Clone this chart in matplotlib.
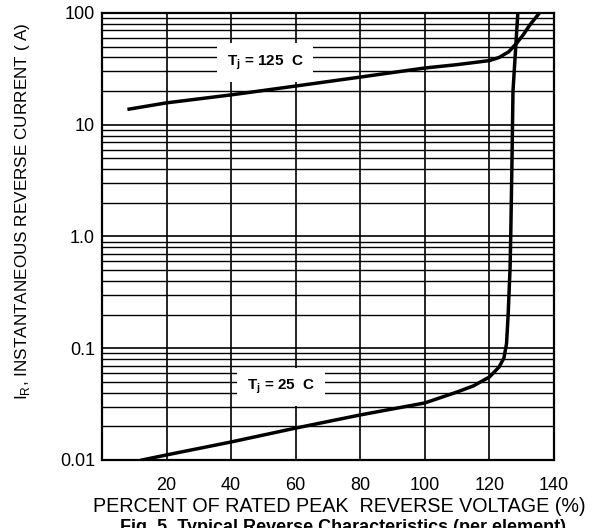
import matplotlib.pyplot as plt
from matplotlib.ticker import FixedLocator, LogLocator, NullFormatter

plt.rcParams['font.family'] = ['Liberation Sans', 'DejaVu Sans']

# reverse current curves (percent of VRRM, amps)
v_125 = [8.4, 20, 40, 60, 80, 100, 110, 120, 123, 126, 128.5, 130.5, 132.5, 135.5]
i_125 = [13.8, 15.7, 18.5, 22.2, 26.7, 32.2, 34.5, 37.5, 40, 45, 54, 64, 78, 100]

v_25 = [12.4, 20, 40, 60, 80, 100, 110, 115, 120, 123, 124.5, 125.3, 125.8,
        126.4, 126.6, 127.0, 127.3, 128.8]
i_25 = [0.01, 0.0111, 0.0145, 0.0193, 0.0253, 0.0324, 0.0406, 0.046, 0.0553,
        0.068, 0.082, 0.11, 0.2, 0.53, 1.0, 5.0, 20, 100]

x_ticks = [20, 40, 60, 80, 100, 120, 140]
y_ticks = [0.01, 0.1, 1.0, 10, 100]
y_labels = ['0.01', '0.1', '1.0', '10', '100']

fig = plt.figure(figsize=(5.92, 5.28), dpi=100)
ax = fig.add_axes([0.1723, 0.1288, 0.7635, 0.8466])

ax.set_yscale('log')
ax.set_xlim(0, 140)
ax.set_ylim(0.01, 100)

ax.xaxis.set_major_locator(FixedLocator(x_ticks))
ax.yaxis.set_major_locator(FixedLocator(y_ticks))
ax.set_yticklabels(y_labels)
ax.yaxis.set_minor_locator(LogLocator(base=10, subs=range(2, 10)))
ax.yaxis.set_minor_formatter(NullFormatter())

ax.grid(True, which='major', color='black', linewidth=1.2)
ax.grid(True, which='minor', axis='y', color='black', linewidth=1.0)
ax.tick_params(which='both', length=0, labelsize=13, colors='black')
ax.tick_params(axis='x', pad=12)
ax.tick_params(axis='y', pad=5)
for s in ax.spines.values():
    s.set_linewidth(1.6)

ax.plot(v_125, i_125, color='black', linewidth=2.5, zorder=4)
ax.plot(v_25, i_25, color='black', linewidth=2.5, zorder=4)

box = dict(facecolor='white', edgecolor='none', pad=7)
ax.text(50.5, 36, 'T$_\\mathregular{j}$ = 125  C', ha='center', va='center',
        fontsize=11, fontweight='bold', bbox=box, zorder=5)
ax.text(55.5, 0.045, 'T$_\\mathregular{j}$ = 25  C', ha='center', va='center',
        fontsize=11, fontweight='bold', bbox=box, zorder=5)

fig.text(0.038, 0.6, 'I$_\\mathregular{R}$, INSTANTANEOUS REVERSE CURRENT ( A)',
         rotation=90, ha='center', va='center', fontsize=12.3)
fig.text(0.574, 0.041, 'PERCENT OF RATED PEAK  REVERSE VOLTAGE (%)',
         ha='center', va='center', fontsize=14.2)
# caption is cut off at the bottom edge in the original scan
fig.text(0.58, 0.0, 'Fig. 5. Typical Reverse Characteristics (per element)',
         ha='center', va='center', fontsize=13, fontweight='bold')

fig.savefig('out.png', dpi=100)
